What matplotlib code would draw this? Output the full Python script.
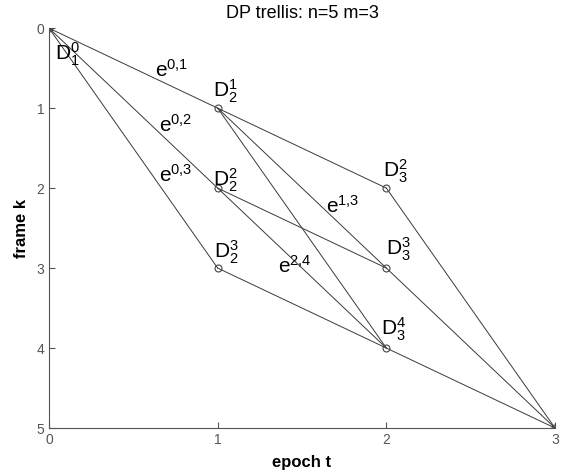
import matplotlib
matplotlib.use("Agg")
import matplotlib.pyplot as plt

plt.rcParams['font.family'] = ['Liberation Sans', 'DejaVu Sans']
plt.rcParams['mathtext.fontset'] = 'custom'
plt.rcParams['mathtext.rm'] = 'Liberation Sans'
plt.rcParams['mathtext.it'] = 'Liberation Sans'

# trellis nodes (epoch t, frame k)
node_t = [0, 1, 1, 1, 2, 2, 2, 3]
node_k = [0, 1, 2, 3, 2, 3, 4, 5]

# edges as (from node, to node) in (t, k)
edges = [((0, 0), (1, 1)), ((0, 0), (1, 2)), ((0, 0), (1, 3)),
         ((1, 1), (2, 2)), ((1, 1), (2, 3)), ((1, 1), (2, 4)),
         ((1, 2), (2, 3)), ((1, 2), (2, 4)),
         ((1, 3), (2, 4)),
         ((2, 2), (3, 5)), ((2, 3), (3, 5)), ((2, 4), (3, 5))]

# text labels: (t, k, text)
labels = [(0.036, 0.40, r'$\mathrm{D}_1^0$'),
          (0.63, 0.61, r'$\mathrm{e}^{0{,}1}$'),
          (0.97, 0.86, r'$\mathrm{D}_2^1$'),
          (0.65, 1.30, r'$\mathrm{e}^{0{,}2}$'),
          (0.97, 1.98, r'$\mathrm{D}_2^2$'),
          (0.65, 1.92, r'$\mathrm{e}^{0{,}3}$'),
          (1.98, 1.86, r'$\mathrm{D}_3^2$'),
          (1.64, 2.31, r'$\mathrm{e}^{1{,}3}$'),
          (0.98, 2.88, r'$\mathrm{D}_2^3$'),
          (1.36, 3.06, r'$\mathrm{e}^{2{,}4}$'),
          (2.00, 2.84, r'$\mathrm{D}_3^3$'),
          (1.97, 3.84, r'$\mathrm{D}_3^4$')]

fig = plt.figure(figsize=(5.66, 4.76), dpi=100)
ax = fig.add_axes([0.0866, 0.1008, 0.894, 0.840])

for (t0, k0), (t1, k1) in edges:
    ax.plot([t0, t1], [k0, k1], color='#3a3a3a', linewidth=0.7)
ax.plot(node_t, node_k, linestyle='none', marker='o', markersize=5,
        markerfacecolor='none', markeredgecolor='#444444', markeredgewidth=0.8)

for t, k, s in labels:
    ax.text(t, k, s, fontsize=15, ha='left', va='baseline', color='black')

ax.set_xlim(0, 3)
ax.set_ylim(5, 0)
ax.set_xticks([0, 1, 2, 3])
ax.set_yticks([0, 1, 2, 3, 4, 5])
ax.tick_params(direction='in', length=4, colors='#555555', labelsize=10,
               labelcolor='#555555')
for side in ['top', 'right']:
    ax.spines[side].set_visible(False)
for side in ['left', 'bottom']:
    ax.spines[side].set_color('#555555')
ax.set_xlabel('epoch t', fontsize=12, fontweight='bold', labelpad=6)
ax.set_ylabel('frame k', fontsize=12, fontweight='bold', labelpad=5)
ax.set_title('DP trellis: n=5 m=3', fontsize=13, pad=7)

fig.savefig('out.png', dpi=100)
